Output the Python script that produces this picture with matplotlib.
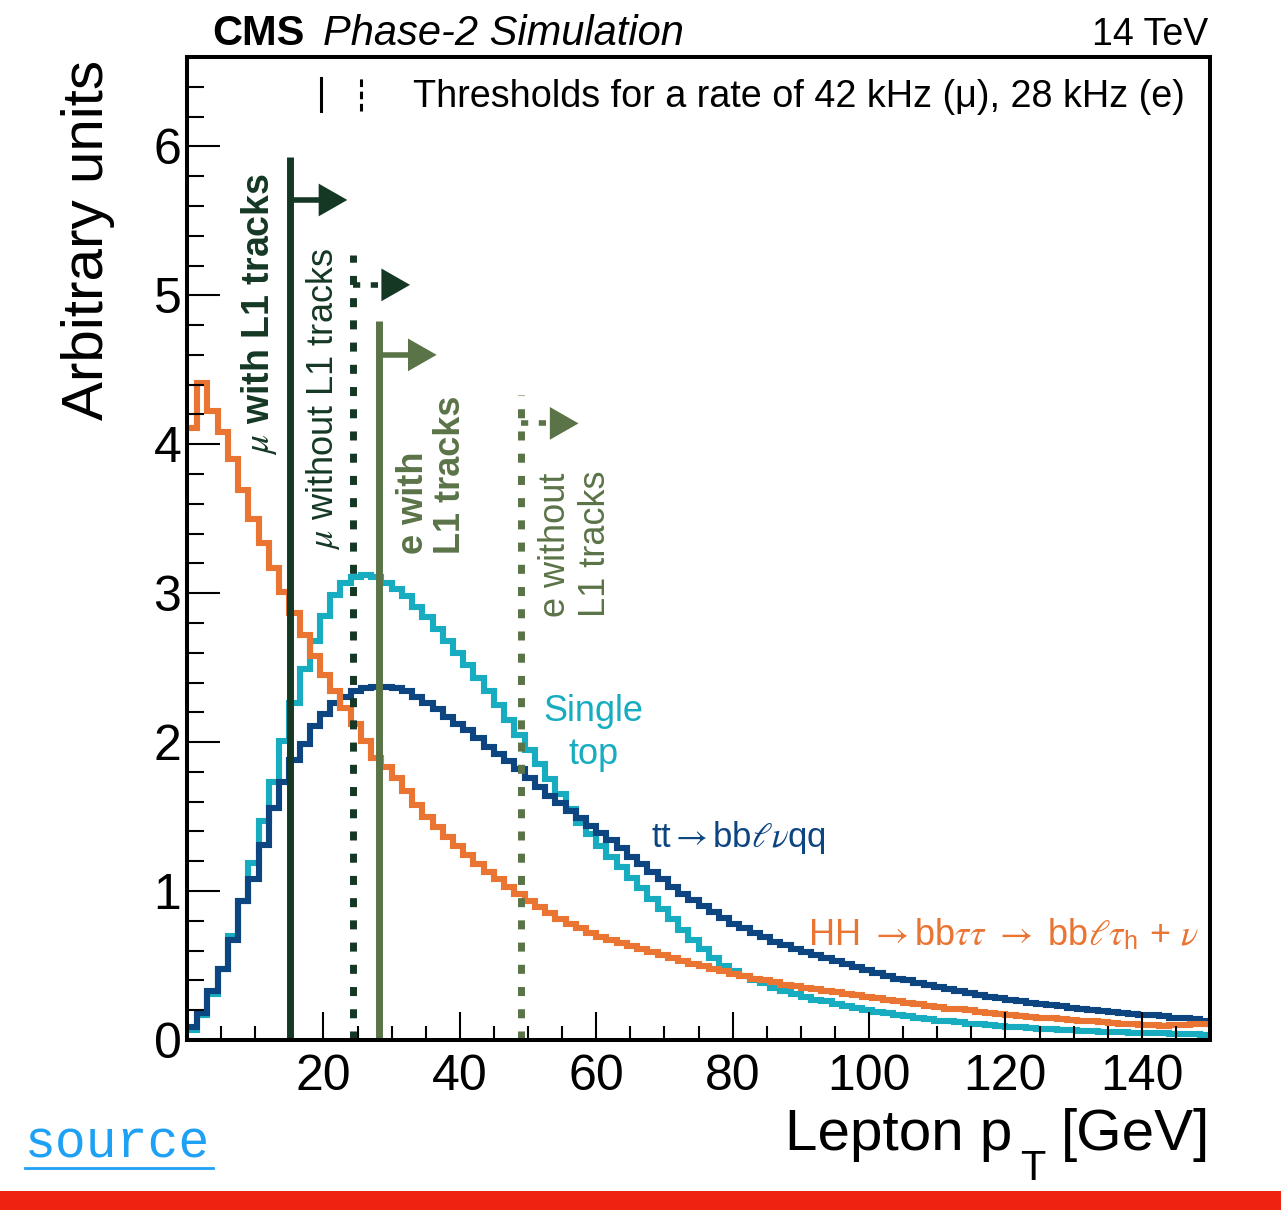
import numpy as np
import matplotlib
matplotlib.use("Agg")
import matplotlib.pyplot as plt
from matplotlib.lines import Line2D
from matplotlib.patches import Rectangle

plt.rcParams['font.family'] = ['Liberation Sans', 'DejaVu Sans']
plt.rcParams['mathtext.fontset'] = 'custom'
plt.rcParams['mathtext.rm'] = 'STIXGeneral'
plt.rcParams['mathtext.sf'] = 'Liberation Sans'
plt.rcParams['mathtext.bf'] = 'Liberation Sans:bold'
plt.rcParams['mathtext.it'] = 'STIXGeneral:italic'
plt.rcParams['mathtext.fallback'] = 'stix'

# Histogram binning (GeV)
bin_width = 1.5
n_bins = 100

# HH -> bbtautau -> bb l tau_h + nu
hh_vals = [4.11, 4.41, 4.22, 4.08, 3.90, 3.69, 3.50, 3.34, 3.17, 3.01,
           2.87, 2.72, 2.58, 2.45, 2.34, 2.23, 2.12, 2.01, 1.89, 1.83,
           1.76, 1.67, 1.58, 1.50, 1.43, 1.36, 1.30, 1.24, 1.18, 1.13,
           1.08, 1.03, 0.98, 0.93, 0.89, 0.85, 0.81, 0.78, 0.75, 0.72,
           0.69, 0.67, 0.65, 0.63, 0.61, 0.59, 0.57, 0.55, 0.53, 0.51,
           0.50, 0.48, 0.46, 0.44, 0.43, 0.41, 0.40, 0.39, 0.37, 0.36,
           0.35, 0.34, 0.33, 0.32, 0.31, 0.30, 0.29, 0.28, 0.27, 0.26,
           0.25, 0.24, 0.23, 0.22, 0.21, 0.205, 0.20, 0.19, 0.18, 0.175,
           0.17, 0.16, 0.155, 0.15, 0.145, 0.14, 0.135, 0.13, 0.125, 0.12,
           0.115, 0.11, 0.105, 0.10, 0.10, 0.095, 0.10, 0.10, 0.105, 0.11]

# ttbar -> bb l nu qq
tt_vals = [0.09, 0.18, 0.33, 0.48, 0.67, 0.93, 1.08, 1.31, 1.56, 1.73,
           1.88, 1.99, 2.11, 2.19, 2.26, 2.30, 2.34, 2.36, 2.37, 2.37,
           2.36, 2.34, 2.30, 2.26, 2.22, 2.17, 2.12, 2.08, 2.03, 1.97,
           1.92, 1.87, 1.82, 1.76, 1.70, 1.64, 1.59, 1.54, 1.49, 1.44,
           1.39, 1.34, 1.29, 1.23, 1.18, 1.13, 1.08, 1.03, 0.98, 0.94,
           0.90, 0.86, 0.82, 0.78, 0.75, 0.72, 0.69, 0.66, 0.64, 0.61,
           0.59, 0.57, 0.55, 0.53, 0.51, 0.49, 0.47, 0.45, 0.43, 0.41,
           0.40, 0.38, 0.37, 0.355, 0.34, 0.33, 0.315, 0.30, 0.29, 0.28,
           0.27, 0.26, 0.25, 0.24, 0.235, 0.225, 0.215, 0.21, 0.20, 0.195,
           0.19, 0.18, 0.175, 0.17, 0.165, 0.16, 0.15, 0.145, 0.14, 0.13]

# single top
st_vals = [0.07, 0.17, 0.31, 0.48, 0.70, 0.93, 1.19, 1.47, 1.73, 2.01,
           2.26, 2.49, 2.68, 2.85, 2.99, 3.07, 3.11, 3.12, 3.11, 3.07,
           3.03, 2.98, 2.91, 2.84, 2.76, 2.68, 2.60, 2.52, 2.43, 2.34,
           2.25, 2.15, 2.05, 1.95, 1.85, 1.75, 1.65, 1.55, 1.46, 1.38,
           1.30, 1.23, 1.16, 1.09, 1.02, 0.95, 0.88, 0.81, 0.74, 0.67,
           0.61, 0.55, 0.50, 0.46, 0.43, 0.40, 0.38, 0.35, 0.33, 0.31,
           0.29, 0.27, 0.26, 0.245, 0.23, 0.215, 0.20, 0.19, 0.18, 0.17,
           0.16, 0.15, 0.14, 0.13, 0.125, 0.12, 0.11, 0.105, 0.10, 0.095,
           0.09, 0.085, 0.08, 0.077, 0.073, 0.07, 0.065, 0.062, 0.06, 0.057,
           0.055, 0.052, 0.05, 0.048, 0.046, 0.044, 0.042, 0.04, 0.038, 0.036]

# L1 thresholds (GeV): mu w/ tracks, mu w/o tracks, e w/ tracks, e w/o tracks
thr_pt = [15.1, 24.3, 28.2, 49.0]
thr_top = [5.93, 5.27, 4.83, 4.33]
thr_arrow_y = [5.64, 5.07, 4.60, 4.14]
thr_solid = [True, False, True, False]

c_orange = '#ea7431'
c_cyan = '#17acc0'
c_blue = '#0d4580'
c_dkgreen = '#143824'
c_olive = '#5a7347'
thr_color = [c_dkgreen, c_dkgreen, c_olive, c_olive]

edges = np.arange(n_bins + 1) * bin_width

fig = plt.figure(figsize=(12.81, 12.10), dpi=100)
ax = fig.add_axes([0.146, 0.1405, 0.7986, 0.8124])

ax.stairs(st_vals, edges, color=c_cyan, lw=4.4, baseline=None)
ax.stairs(tt_vals, edges, color=c_blue, lw=4.4, baseline=None)
ax.stairs(hh_vals, edges, color=c_orange, lw=4.4, baseline=None)

# threshold lines with arrows
dots = (0, (1.3, 1.9))
stem, head_len, head_h = 4.2, 4.2, 0.22
for x, top, ay, solid, col in zip(thr_pt, thr_top, thr_arrow_y, thr_solid, thr_color):
    ls = '-' if solid else dots
    ax.plot([x, x], [0, top], color=col, lw=5, ls=ls, solid_capstyle='butt')
    ax.plot([x, x + stem], [ay, ay], color=col, lw=4, ls=ls, solid_capstyle='butt')
    ax.fill([x + stem, x + stem, x + stem + head_len],
            [ay - head_h / 2, ay + head_h / 2, ay], color=col, lw=0)

# threshold labels
ax.text(10.5, 3.93, r'$\mu$ with L1 tracks', rotation=90, ha='center', va='bottom',
        fontsize=27, fontweight='bold', color=c_dkgreen)
ax.text(19.9, 3.29, r'$\mu$ without L1 tracks', rotation=90, ha='center', va='bottom',
        fontsize=26, color=c_dkgreen)
ax.text(35.9, 3.26, 'e with\nL1 tracks', rotation=90, ha='center', va='bottom',
        multialignment='left', linespacing=1.05, fontsize=26, fontweight='bold', color=c_olive)
ax.text(57.0, 2.84, 'e without\nL1 tracks', rotation=90, ha='center', va='bottom',
        multialignment='left', linespacing=1.2, fontsize=26, color=c_olive)

# process labels
ax.text(59.6, 2.06, 'Single\ntop', ha='center', va='center', multialignment='center',
        linespacing=1.3, fontsize=26, color=c_cyan)
ax.text(68.0, 1.36, r'tt$\rightarrow$bb$\ell\nu$qq', ha='left', va='center',
        fontsize=25, color=c_blue)
ax.text(91.0, 0.70, r'HH $\rightarrow$bb$\tau\tau$ $\rightarrow$ bb$\ell\tau_{\mathsf{h}}$ + $\nu$',
        ha='left', va='center', fontsize=26, color=c_orange)

# threshold legend
ax.add_line(Line2D([19.6, 19.6], [6.24, 6.46], color='black', lw=2.2))
ax.add_line(Line2D([25.5, 25.5], [6.24, 6.46], color='black', lw=2.2, ls=(0, (2.5, 1.5))))
ax.text(33.1, 6.33, 'Thresholds for a rate of 42 kHz (μ), 28 kHz (e)', ha='left',
        va='center', fontsize=27.2)

ax.set_xlim(0, 150)
ax.set_ylim(0, 6.6)
ax.set_xticks([20, 40, 60, 80, 100, 120, 140])
ax.set_xticks(np.arange(5, 150, 5), minor=True)
ax.set_yticks([0, 1, 2, 3, 4, 5, 6])
ax.set_yticks(np.arange(0, 6.6, 0.2), minor=True)
ax.tick_params(axis='both', which='both', direction='in', top=False, right=False,
               labelsize=36, width=1.5)
ax.tick_params(axis='y', which='major', length=24, pad=4)
ax.tick_params(axis='y', which='minor', length=12)
ax.tick_params(axis='x', which='major', length=20, pad=10)
ax.tick_params(axis='x', which='minor', length=10)
for sp in ax.spines.values():
    sp.set_linewidth(2.9)

# x title in pieces so the subscript T sits low like the original
ax.text(1.0, -0.112, '[GeV]', transform=ax.transAxes, ha='right', va='baseline', fontsize=42)
ax.text(0.814, -0.1424, 'T', transform=ax.transAxes, ha='left', va='baseline', fontsize=30)
ax.text(0.807, -0.112, 'Lepton p', transform=ax.transAxes, ha='right', va='baseline',
        fontsize=42)

ax.text(-0.097, 0.997, 'Arbitrary units', transform=ax.transAxes, rotation=90,
        ha='center', va='top', fontsize=42)

# header
fig.text(0.166, 0.9628, 'CMS', fontsize=30, fontweight='bold', ha='left', va='baseline')
fig.text(0.252, 0.9628, 'Phase-2 Simulation', fontsize=30, style='italic',
         ha='left', va='baseline')
fig.text(0.943, 0.9628, '14 TeV', fontsize=27, ha='right', va='baseline')

# page decorations
fig.text(0.0195, 0.043, 'source', fontsize=37, family='Liberation Mono',
         color='#1ea0f5', ha='left', va='baseline')
fig.add_artist(Line2D([0.0195, 0.166], [0.035, 0.035], color='#1ea0f5', lw=2))
fig.add_artist(Rectangle((0, 0), 1, 0.016, color='#ee2211', lw=0))

fig.savefig('out.png', dpi=100)
